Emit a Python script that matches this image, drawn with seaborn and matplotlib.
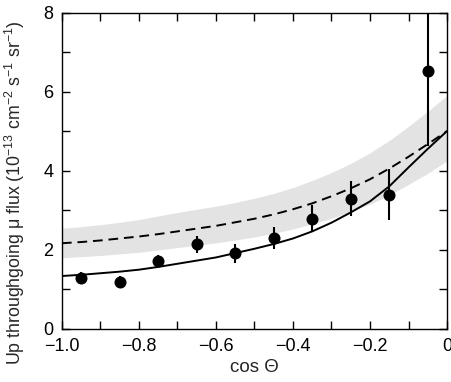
import numpy as np
import pandas as pd
import seaborn as sns
import matplotlib.pyplot as plt
from matplotlib.ticker import MultipleLocator

# ---------------------------------------------------------
# Data
# ---------------------------------------------------------
cos_bins = [-0.95, -0.85, -0.75, -0.65, -0.55, -0.45, -0.35, -0.25, -0.15, -0.05]
flux = [1.29, 1.19, 1.72, 2.13, 1.90, 2.30, 2.78, 3.29, 3.39, 6.53]
flux_err = [0.13, 0.13, 0.14, 0.21, 0.24, 0.28, 0.34, 0.45, 0.64, 1.90]

curve_x = [-1.0, -0.95, -0.9, -0.85, -0.8, -0.75, -0.7, -0.65, -0.6, -0.55, -0.5,
           -0.45, -0.4, -0.35, -0.3, -0.25, -0.2, -0.15, -0.1, -0.05, 0.0]
# no-oscillation expectation (dashed) and its uncertainty band
no_osc = [2.16, 2.19, 2.23, 2.28, 2.33, 2.39, 2.46, 2.53, 2.60, 2.69, 2.78,
          2.89, 3.02, 3.17, 3.35, 3.55, 3.78, 4.05, 4.35, 4.67, 5.00]
band_lo = [1.79, 1.82, 1.85, 1.89, 1.93, 1.99, 2.05, 2.11, 2.17, 2.24, 2.32,
           2.41, 2.52, 2.65, 2.79, 2.96, 3.15, 3.38, 3.65, 3.93, 4.25]
band_hi = [2.54, 2.58, 2.63, 2.69, 2.76, 2.85, 2.94, 3.02, 3.10, 3.19, 3.30,
           3.42, 3.57, 3.75, 3.95, 4.18, 4.45, 4.76, 5.12, 5.50, 5.90]
# best-fit oscillation (solid)
osc_fit = [1.33, 1.36, 1.40, 1.44, 1.49, 1.56, 1.64, 1.72, 1.80, 1.91, 2.02,
           2.14, 2.28, 2.46, 2.68, 2.94, 3.22, 3.60, 4.08, 4.55, 5.00]

x_ticks = [-1.0, -0.8, -0.6, -0.4, -0.2, 0.0]
x_labels = ["\u22121.0", "\u22120.8", "\u22120.6", "\u22120.4", "\u22120.2", "0"]
y_ticks = [0, 2, 4, 6, 8]

pts = pd.DataFrame({"cos": cos_bins, "flux": flux, "err": flux_err})
curves = pd.DataFrame({"cos": curve_x, "no_osc": no_osc, "fit": osc_fit,
                       "lo": band_lo, "hi": band_hi})

# ---------------------------------------------------------
# Styling
# ---------------------------------------------------------
sns.set_style("ticks")
plt.rcParams["font.family"] = ["Liberation Sans", "DejaVu Sans"]
plt.rcParams["mathtext.default"] = "regular"

fig = plt.figure(figsize=(4.52, 3.82), dpi=100)
ax = fig.add_axes([0.137, 0.14, 0.852, 0.827])

ax.fill_between(curves["cos"], curves["lo"], curves["hi"],
                color="#e3e3e3", linewidth=0, zorder=1)
sns.lineplot(data=curves, x="cos", y="no_osc", ax=ax, color="black",
             linewidth=1.4, linestyle=(0, (5, 3)), zorder=2)
sns.lineplot(data=curves, x="cos", y="fit", ax=ax, color="black",
             linewidth=1.4, zorder=2)
ax.errorbar(pts["cos"], pts["flux"], yerr=pts["err"], fmt="none",
            ecolor="black", elinewidth=1.5, capsize=0, zorder=3)
sns.scatterplot(data=pts, x="cos", y="flux", ax=ax, color="black",
                s=75, edgecolor="black", linewidth=0, zorder=4)

ax.set_xlim(-1.0, 0.0)
ax.set_ylim(0, 8)
ax.set_xticks(x_ticks)
ax.set_xticklabels(x_labels)
ax.xaxis.set_minor_locator(MultipleLocator(0.1))
ax.set_yticks(y_ticks)
ax.set_yticklabels([str(v) for v in y_ticks])
ax.yaxis.set_minor_locator(MultipleLocator(1))

ax.tick_params(which="both", direction="in", top=True, right=True,
               labelsize=13, width=1.0, colors="black", length=6)
ax.tick_params(axis="x", pad=7)
ax.tick_params(axis="y", pad=6)
for s in ax.spines.values():
    s.set_linewidth(1.0)
    s.set_color("black")

ax.set_xlabel("cos \u0398", fontsize=13.5, labelpad=3)
ax.set_ylabel("Up throughgoing \u03bc flux (10$^{-13}$ cm$^{-2}$ s$^{-1}$ sr$^{-1}$)",
              fontsize=12.8)
ax.yaxis.set_label_coords(-0.09, 0.43)

plt.savefig("out.png", dpi=100)
plt.close()
